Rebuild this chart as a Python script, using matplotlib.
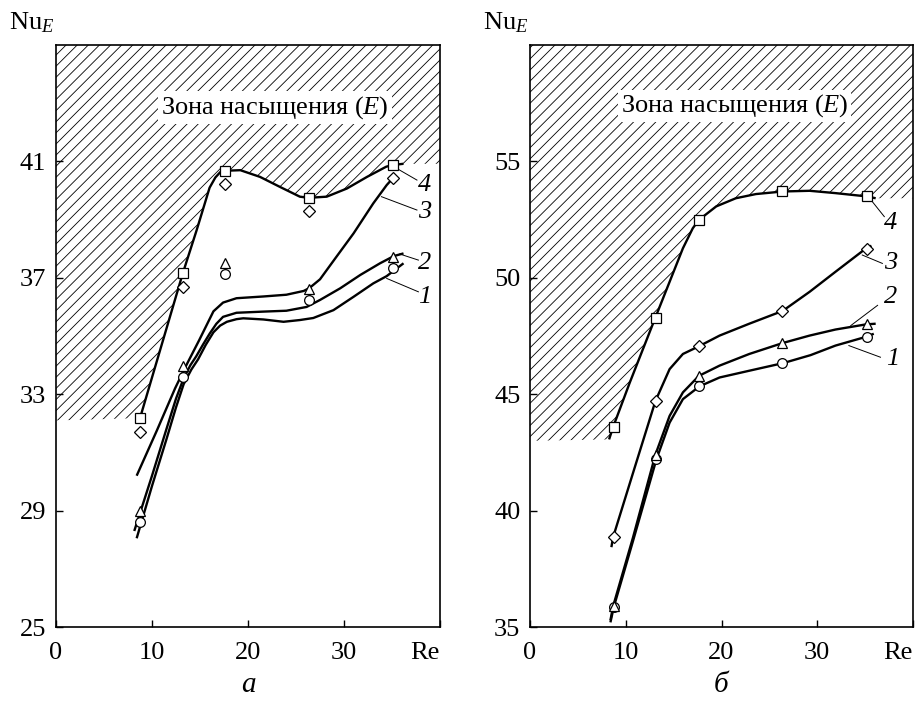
import matplotlib
matplotlib.use("Agg")
import matplotlib.pyplot as plt

plt.rcParams["font.family"] = ["Liberation Serif", "DejaVu Serif"]
plt.rcParams["mathtext.fontset"] = "custom"
plt.rcParams["mathtext.rm"] = "Liberation Serif"
plt.rcParams["mathtext.it"] = "Liberation Serif:italic"
plt.rcParams["hatch.linewidth"] = 0.6

# Re of the measured points (same for both panels)
RE_POINTS = [8.75, 13.2, 17.6, 26.35, 35.15]

# panel а: measured points
A_SQUARE = [32.17, 37.15, 40.67, 39.75, 40.88]
A_DIAMOND = [31.71, 36.69, 40.21, 39.31, 40.42]
A_TRIANGLE = [29.0, 33.98, 37.52, 36.6, 37.72]
A_CIRCLE = [28.62, 33.59, 37.12, 36.24, 37.33]

# panel а: faired curves
A_C1_RE = [8.4, 10.0, 11.5, 12.5, 13.3, 14.1, 14.8, 15.6, 16.4, 17.1, 17.8, 18.8, 19.5,
           21.6, 23.7, 25.4, 26.8, 28.9, 31.0, 33.05, 34.45, 35.2, 36.2]
A_C1_NU = [28.05, 29.85, 31.45, 32.55, 33.35, 33.85, 34.2, 34.7, 35.13, 35.36, 35.49, 35.58, 35.61,
           35.57, 35.49, 35.55, 35.62, 35.89, 36.35, 36.81, 37.06, 37.25, 37.5]
A_C2_RE = [8.15, 10.0, 11.5, 12.5, 13.3, 14.0, 14.6, 15.3, 16.0, 16.7, 17.4, 18.8,
           21.6, 24.0, 26.1, 27.5, 29.6, 31.7, 33.75, 35.2, 36.2]
A_C2_NU = [28.3, 30.2, 31.8, 32.85, 33.55, 34.0, 34.3, 34.7, 35.08, 35.42, 35.66, 35.8,
           35.84, 35.87, 36.0, 36.24, 36.64, 37.1, 37.5, 37.75, 37.84]
A_C3_RE = [8.4, 10.5, 12.4, 13.5, 14.2, 14.9, 15.5, 16.4, 17.4, 18.8, 21.6, 24.0, 25.8,
           26.4, 27.5, 29.2, 31.0, 33.05, 34.45, 35.3]
A_C3_NU = [30.2, 31.75, 33.2, 33.95, 34.4, 34.85, 35.25, 35.85, 36.15, 36.3, 36.36, 36.42, 36.55,
           36.65, 36.95, 37.72, 38.53, 39.56, 40.19, 40.5]
A_C4_RE = [8.75, 13.2, 14.65, 16.0, 16.6, 17.1, 17.6, 19.2, 21.25, 23.3, 25.4, 26.3,
           28.2, 30.3, 32.4, 34.4, 35.1, 36.2]
A_C4_NU = [32.18, 37.15, 38.64, 40.1, 40.45, 40.63, 40.68, 40.7, 40.47, 40.13, 39.79, 39.75,
           39.79, 40.07, 40.47, 40.82, 40.88, 40.92]
A_ZONE_FLOOR = 32.1

# panel б: measured points
B_SQUARE = [43.59, 48.29, 52.49, 53.71, 53.5]
B_DIAMOND = [38.86, 44.71, 47.06, 48.58, 51.26]
B_TRIANGLE = [35.89, 42.41, 45.79, 47.2, 48.03]
B_CIRCLE = [35.86, 42.2, 45.34, 46.34, 47.48]

# panel б: faired curves
B_C1_RE = [8.4, 8.75, 10.76, 13.2, 14.58, 15.97, 17.7, 19.8, 22.9, 26.46, 29.3, 31.9, 35.2, 35.9]
B_C1_NU = [35.2, 35.86, 38.7, 42.2, 43.78, 44.79, 45.34, 45.72, 46.01, 46.34, 46.68, 47.09, 47.48, 47.6]
B_C2_RE = [8.4, 8.68, 10.76, 13.1, 14.58, 15.97, 17.64, 19.8, 22.9, 26.39, 29.2, 31.9, 35.07, 36.1]
B_C2_NU = [35.29, 35.89, 38.85, 42.41, 44.07, 45.08, 45.79, 46.23, 46.73, 47.2, 47.52, 47.78, 48.0, 48.03]
B_C3_RE = [8.5, 8.68, 10.76, 13.1, 14.58, 15.97, 17.64, 19.8, 22.9, 26.39, 29.2, 31.9, 35.07, 35.66]
B_C3_NU = [38.43, 38.86, 41.62, 44.71, 46.08, 46.73, 47.06, 47.52, 48.03, 48.58, 49.4, 50.26, 51.26, 51.38]
B_C4_RE = [8.26, 8.68, 10.42, 13.09, 14.58, 15.97, 17.0, 17.64, 19.45, 21.5, 23.6, 26.39,
           29.2, 31.9, 35.14, 36.1]
B_C4_NU = [43.06, 43.59, 45.5, 48.29, 49.83, 51.27, 52.13, 52.49, 53.07, 53.42, 53.6, 53.71,
           53.74, 53.64, 53.5, 53.42]
B_ZONE_FLOOR = 43.0

X_TICKS = [0, 10, 20, 30, 40]
X_TICKLABELS = ["0", "10", "20", "30", "Re"]
A_YTICKS = [25, 29, 33, 37, 41]
B_YTICKS = [35, 40, 45, 50, 55]

FS = 19


def draw_panel(ax, ylim, yticks, zone_floor, curves, points, labels, zone_text_xy, panel_name):
    x_max = X_TICKS[-1]
    c4_re, c4_nu = curves[3]
    # hatched saturation zone: above curve 4, closed by the frame
    zone_x = [0] + c4_re + [x_max, x_max, 0]
    zone_y = [zone_floor] + c4_nu + [c4_nu[-1], ylim[1], ylim[1]]
    ax.fill(zone_x, zone_y, facecolor="none", edgecolor="black", hatch="///",
            linewidth=0, zorder=1)

    for re, nu in curves:
        ax.plot(re, nu, color="black", lw=1.7, solid_joinstyle="round",
                solid_capstyle="butt", zorder=3)

    for nu, marker in zip(points, ["o", "^", "D", "s"]):
        ms = 6.5 if marker == "D" else 7
        ax.plot(RE_POINTS, nu, linestyle="none", marker=marker, ms=ms,
                mfc="white", mec="black", mew=0.9, zorder=4)

    for text, (tx, ty), (x1, y1, x2, y2) in labels:
        ax.plot([x1, x2], [y1, y2], color="black", lw=0.7, zorder=3)
        ax.text(tx, ty, text, fontsize=FS, style="italic", ha="center", va="center")

    ax.text(zone_text_xy[0], zone_text_xy[1], "Зона насыщения ($E$)", fontsize=FS,
            ha="center", va="center", zorder=5,
            bbox=dict(facecolor="white", edgecolor="none", pad=2))

    ax.set_xlim(0, x_max)
    ax.set_ylim(*ylim)
    ax.set_xticks(X_TICKS)
    ax.set_xticklabels(X_TICKLABELS)
    ax.get_xticklabels()[-1].set_horizontalalignment("right")
    ax.set_yticks(yticks)
    ax.tick_params(direction="in", length=5, width=1, labelsize=FS)
    ax.tick_params(axis="x", pad=11)
    ax.tick_params(axis="y", pad=7)
    for sp in ax.spines.values():
        sp.set_linewidth(1.2)

    ax.text(-0.122, 1.027, "Nu$_E$", transform=ax.transAxes, fontsize=FS,
            ha="left", va="baseline")
    ax.text(0.5, -0.1, panel_name, transform=ax.transAxes, fontsize=FS + 2,
            style="italic", ha="center", va="center")


fig = plt.figure(figsize=(9.23, 7.02), dpi=100)
ax_a = fig.add_axes([0.0607, 0.1068, 0.416, 0.829])
ax_b = fig.add_axes([0.5742, 0.1068, 0.415, 0.829])

draw_panel(
    ax_a, (25, 45), A_YTICKS, A_ZONE_FLOOR,
    [(A_C1_RE, A_C1_NU), (A_C2_RE, A_C2_NU), (A_C3_RE, A_C3_NU), (A_C4_RE, A_C4_NU)],
    [A_CIRCLE, A_TRIANGLE, A_DIAMOND, A_SQUARE],
    [("4", (38.4, 40.19), (35.5, 40.76, 37.6, 40.36)),
     ("3", (38.4, 39.27), (33.9, 39.79, 37.6, 39.33)),
     ("2", (38.4, 37.5), (35.8, 37.82, 37.75, 37.61)),
     ("1", (38.4, 36.35), (34.45, 36.98, 37.75, 36.52))],
    (22.8, 42.86), "а")

draw_panel(
    ax_b, (35, 60), B_YTICKS, B_ZONE_FLOOR,
    [(B_C1_RE, B_C1_NU), (B_C2_RE, B_C2_NU), (B_C3_RE, B_C3_NU), (B_C4_RE, B_C4_NU)],
    [B_CIRCLE, B_TRIANGLE, B_DIAMOND, B_SQUARE],
    [("4", (37.67, 52.34), (35.6, 53.35, 37.0, 52.63)),
     ("3", (37.67, 50.62), (34.7, 50.98, 36.8, 50.62)),
     ("2", (37.67, 49.18), (33.5, 47.95, 36.3, 48.82)),
     ("1", (37.85, 46.52), (33.3, 47.09, 36.6, 46.59))],
    (21.35, 57.39), "б")

fig.savefig("out.png", dpi=100, facecolor="white")
